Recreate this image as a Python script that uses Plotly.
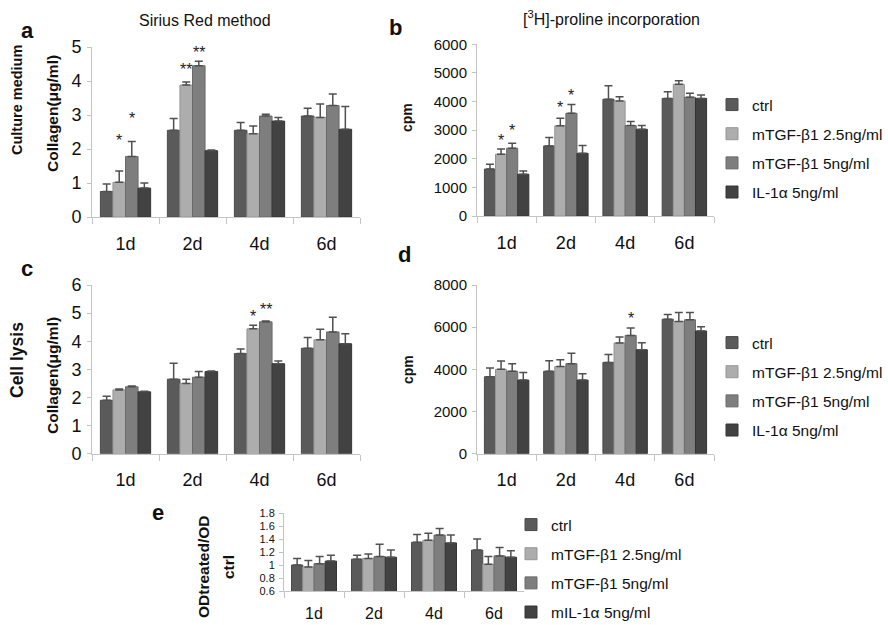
import plotly.graph_objects as go

W, H = 888, 625
FONT = "Liberation Sans, Arial, sans-serif"

days = ["1d", "2d", "4d", "6d"]
series_names = ["ctrl", "mTGF-β1 2.5ng/ml", "mTGF-β1 5ng/ml", "IL-1α 5ng/ml"]
series_names_e = ["ctrl", "mTGF-β1 2.5ng/ml", "mTGF-β1 5ng/ml", "mIL-1α 5ng/ml"]
colors = ["#5a5a5a", "#adadad", "#7e7e7e", "#424242"]
edge_colors = ["#4a4a4a", "#959595", "#6a6a6a", "#353535"]

# Panel a: culture medium, Sirius Red (collagen µg/ml)
a_vals = [[0.75, 2.55, 2.55, 2.97], [1.02, 3.88, 2.45, 2.93], [1.78, 4.45, 2.97, 3.28], [0.85, 1.95, 2.82, 2.58]]
a_errs = [[0.22, 0.35, 0.23, 0.23], [0.33, 0.09, 0.23, 0.39], [0.44, 0.13, 0.05, 0.34], [0.15, 0.02, 0.11, 0.67]]
# Panel b: culture medium, [3H]-proline (cpm)
b_vals = [[1640, 2450, 4080, 4110], [2160, 3150, 4020, 4600], [2370, 3590, 3160, 4150], [1460, 2190, 3030, 4110]]
b_errs = [[170, 290, 470, 230], [180, 270, 150, 130], [170, 310, 140, 140], [110, 270, 130, 120]]
# Panel c: cell lysis, Sirius Red
c_vals = [[1.90, 2.65, 3.56, 3.75], [2.27, 2.50, 4.44, 4.05], [2.38, 2.72, 4.69, 4.33], [2.20, 2.92, 3.20, 3.91]]
c_errs = [[0.14, 0.57, 0.16, 0.38], [0.03, 0.15, 0.13, 0.38], [0.03, 0.20, 0.03, 0.52], [0.02, 0.02, 0.10, 0.36]]
# Panel d: cell lysis, [3H]-proline
d_vals = [[3650, 3910, 4330, 6380], [4000, 4130, 5250, 6270], [3910, 4270, 5610, 6350], [3490, 3490, 4930, 5820]]
d_errs = [[410, 500, 380, 220], [400, 330, 290, 430], [350, 490, 350, 350], [360, 300, 330, 200]]
# Panel e: OD treated / OD ctrl
e_vals = [[1.00, 1.09, 1.35, 1.23], [0.97, 1.10, 1.38, 1.01], [1.02, 1.13, 1.46, 1.14], [1.06, 1.12, 1.34, 1.12]]
e_errs = [[0.10, 0.06, 0.12, 0.17], [0.10, 0.07, 0.11, 0.12], [0.11, 0.19, 0.10, 0.13], [0.09, 0.11, 0.12, 0.10]]

# significance marks: (panel axis suffix, day index, series index, y value, text)
stars = [
    ("", 0, 1, 2.35, "*"), ("", 0, 2, 3.0, "*"), ("", 1, 1, 4.42, "**"), ("", 1, 2, 4.94, "**"),
    ("2", 0, 1, 2760, "*"), ("2", 0, 2, 3080, "*"), ("2", 1, 1, 3880, "*"), ("2", 1, 2, 4300, "*"),
    ("3", 2, 1, 5.0, "*"), ("3", 2, 2, 5.25, "**"),
    ("4", 2, 2, 6573, "*"),
]

def px_x(p):
    return p / W

def px_y(p):
    return 1 - p / H

fig = go.Figure()

panels = [
    ("", a_vals, a_errs, None, series_names),
    ("2", b_vals, b_errs, "legend", series_names),
    ("3", c_vals, c_errs, None, series_names),
    ("4", d_vals, d_errs, "legend2", series_names),
    ("5", e_vals, e_errs, "legend3", series_names_e),
]

for suf, vals, errs, leg, names in panels:
    for i in range(4):
        kw = dict(
            x=days, y=vals[i], name=names[i],
            xaxis="x" + suf, yaxis="y" + suf,
            marker=dict(color=colors[i], line=dict(color=edge_colors[i], width=1)),
            error_y=dict(type="data", symmetric=False, array=errs[i],
                         arrayminus=[0] * 4, color="#505050", thickness=1.5, width=4),
            showlegend=leg is not None,
            legendgroup=(leg or "none") + str(i),
        )
        if leg is not None:
            kw["legend"] = leg
        fig.add_trace(go.Bar(**kw))

axis_line = "#c4c4c4"

def xax(dom, anchor, size=18, standoff=10):
    return dict(domain=dom, anchor=anchor, type="category", range=[-0.5, 3.5], showline=True,
                linecolor=axis_line, linewidth=1, ticks="outside", tickson="boundaries",
                ticklen=6, tickcolor=axis_line, showgrid=False, zeroline=False,
                tickfont=dict(family=FONT, size=size, color="#111"), ticklabelstandoff=standoff,
                fixedrange=True, automargin=False)

def yax(dom, anchor, rng, dtick, size):
    return dict(domain=dom, anchor=anchor, range=rng, dtick=dtick, showline=True, linecolor=axis_line,
                linewidth=1, ticks="outside", ticklen=4, tickcolor=axis_line,
                showgrid=False, zeroline=False, tickfont=dict(family=FONT, size=size, color="#111"),
                ticklabelstandoff=2, fixedrange=True, automargin=False)

xa = [px_x(92), px_x(360)]
xb = [px_x(477), px_x(714)]
xe = [px_x(284), px_x(524)]
ya = [px_y(217), px_y(47)]
yb = [px_y(216), px_y(44.3)]
yc = [px_y(453.7), px_y(285)]
ye = [px_y(591), px_y(513)]

legend_common = dict(font=dict(family=FONT, size=15.5, color="#111"), bgcolor="rgba(0,0,0,0)",
                     tracegroupgap=6, itemwidth=30, xanchor="left", yanchor="top",
                     itemclick=False, itemdoubleclick=False)

fig.update_layout(
    width=W, height=H, margin=dict(l=0, r=0, t=0, b=0, autoexpand=False),
    paper_bgcolor="white", plot_bgcolor="white",
    barmode="group", bargap=0.25, bargroupgap=0,
    font=dict(family=FONT, color="#111"),
    xaxis=xax(xa, "y"), yaxis=yax(ya, "x", [0, 5], 1, 18),
    xaxis2=xax(xb, "y2"), yaxis2=yax(yb, "x2", [0, 6000], 1000, 15),
    xaxis3=xax(xa, "y3"), yaxis3=yax(yc, "x3", [0, 6], 1, 18),
    xaxis4=xax(xb, "y4"), yaxis4=yax(yc, "x4", [0, 8000], 2000, 15),
    xaxis5=xax(xe, "y5", 16, 8), yaxis5=yax(ye, "x5", [0.6, 1.8], 0.2, 11),
    legend=dict(x=px_x(712), y=px_y(88), **legend_common),
    legend2=dict(x=px_x(712), y=px_y(326), **legend_common),
    legend3=dict(x=px_x(511), y=px_y(508), **legend_common),
)
fig.layout.yaxis5.tickformat = "~g"

offsets = [-0.28125, -0.09375, 0.09375, 0.28125]
ann = []
for suf, di, si, yv, txt_ in stars:
    ann.append(dict(x=di + offsets[si], y=yv, xref="x" + suf, yref="y" + suf, text=txt_,
                    showarrow=False, font=dict(family=FONT, size=16, color="#222"),
                    yanchor="middle", yshift=-3))

def txt(x, y, s, size, bold=False, angle=0):
    return dict(x=px_x(x), y=px_y(y), xref="paper", yref="paper",
                text=("<b>%s</b>" % s) if bold else s, showarrow=False, textangle=angle,
                font=dict(family=FONT, size=size, color="#111"),
                xanchor="center", yanchor="middle")

ann += [
    txt(205, 20, "Sirius Red method", 16),
    txt(611, 18, "[<sup>3</sup>H]-proline incorporation", 16),
    txt(27, 30, "a", 22, True), txt(395, 27, "b", 22, True),
    txt(27, 268, "c", 22, True), txt(404, 254, "d", 22, True),
    txt(158, 512, "e", 22, True),
    txt(17, 100, "Culture medium", 14.5, True, -90),
    txt(52, 114, "Collagen(μg/ml)", 15.5, True, -90),
    txt(17, 360, "Cell lysis", 17.5, True, -90),
    txt(52, 376, "Collagen(μg/ml)", 15.5, True, -90),
    txt(407, 118, "cpm", 14, True, -90),
    txt(408, 370, "cpm", 14, True, -90),
    txt(203, 567, "ODtreated/OD", 15.5, True, -90),
    txt(228, 567, "ctrl", 15.5, True, -90),
]
fig.update_layout(annotations=ann)

fig.write_html("out.html")
